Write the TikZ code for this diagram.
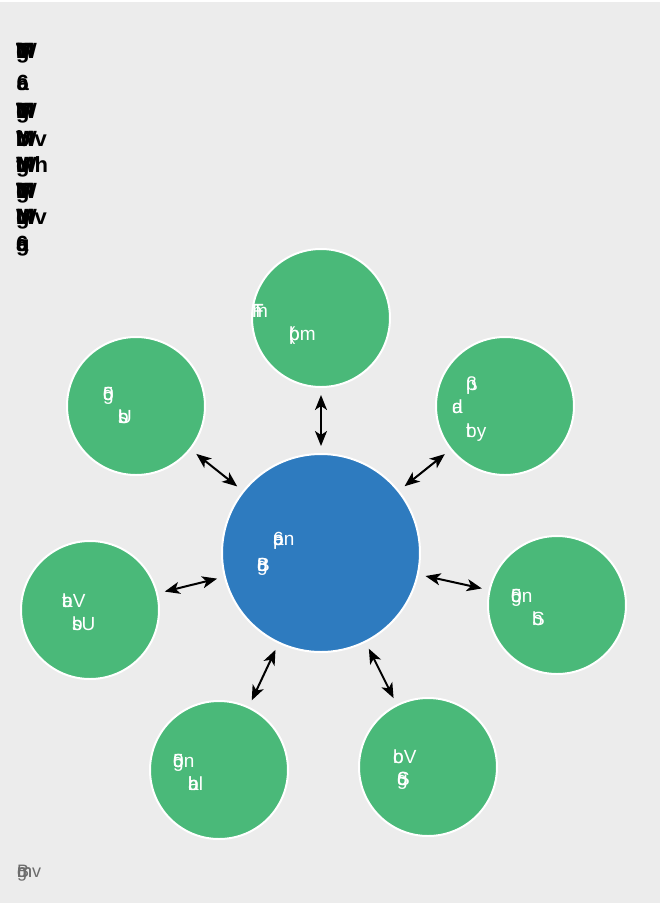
\documentclass[tikz,border=0pt]{standalone}
\usepackage{fontspec}
\setmainfont{Liberation Sans}
\usetikzlibrary{arrows.meta}
\definecolor{bgc}{HTML}{ECECEC}
\definecolor{satc}{HTML}{4AB979}
\definecolor{cenc}{HTML}{2E7BBF}
\definecolor{footc}{HTML}{6D6D6D}
\makeatletter
\def\mkovl#1{\mkovl@a#1\mkovl@end}
\def\mkovl@end{\mkovl@end}
\def\mkovl@a#1{\ifx#1\mkovl@end\else\rlap{#1}\expandafter\mkovl@a\fi}
\makeatother
\tikzset{
  sat/.style={circle,fill=satc,draw=white,line width=2pt,minimum size=138pt,inner sep=0pt},
  cen/.style={circle,fill=cenc,draw=white,line width=2pt,minimum size=198pt,inner sep=0pt},
  conn/.style={{Stealth[length=15pt,width=12pt,inset=4pt]}-{Stealth[length=15pt,width=12pt,inset=4pt]},line width=2pt,black,shorten <=7pt,shorten >=7pt},
  lbl/.style={anchor=base west,inner sep=0pt,text=white,font=\fontsize{19}{19}\selectfont},
  ttl/.style={anchor=base west,inner sep=0pt,text=black,font=\fontsize{22}{22}\selectfont\bfseries},
  foot/.style={anchor=base west,inner sep=0pt,text=footc,font=\fontsize{18}{18}\selectfont}
}
\begin{document}
\begin{tikzpicture}[x=1pt,y=-1pt]
\fill[white] (0,0) rectangle (663,903);
\fill[bgc] (0,2) rectangle (660,903);
\useasboundingbox (0,0) rectangle (663,903);
% title
\node[ttl] (t1) at (16,58) {\mkovl{TWMg}M};
\node[ttl] (t2) at (16,90) {\mkovl{6a}};
\node[ttl] (t3) at (16,118) {\mkovl{TWMg}M};
\node[ttl] (t4) at (16,146) {\mkovl{bWM}Mv};
\node[ttl] (t5) at (16,172) {\mkovl{tWMg}Mh};
\node[ttl] (t6) at (16,198) {\mkovl{TWMg}M};
\node[ttl] (t7) at (16,224) {\mkovl{WMg}Mv};
\node[ttl] (t8) at (16,251) {\mkovl{ag}6};
% circles
\node[cen] (c) at (321,553) {};
\node[sat] (s1) at (321,318) {};
\node[sat] (s2) at (505,406) {};
\node[sat] (s3) at (557,605) {};
\node[sat] (s4) at (428,767) {};
\node[sat] (s5) at (219,770) {};
\node[sat] (s6) at (90,610) {};
\node[sat] (s7) at (136,406) {};
% connectors
\foreach \s in {s1,s2,s3,s4,s5,s6,s7} \draw[conn] (c) -- (\s);
% labels
\node[lbl] (l1a) at (252,317) {\mkovl{TF}m};
\node[lbl] (l1b) at (289,340) {\mkovl{(b}pm};
\node[lbl] (lca) at (273,545) {\mkovl{6a}pn};
\node[lbl] (lcb) at (257,571) {\mkovl{Bg}8};
\node[lbl] (l7a) at (103,400) {\mkovl{5g}0};
\node[lbl] (l7b) at (118,423) {\mkovl{bs}U};
\node[lbl] (l2a) at (466,390) {\mkovl{ß}p};
\node[lbl] (l2b) at (452,413) {\mkovl{a}d};
\node[lbl] (l2c) at (466,437) {\mkovl{t}by};
\node[lbl] (l3a) at (511,602) {\mkovl{5g}0n};
\node[lbl] (l3b) at (532,625) {\mkovl{b}S};
\node[lbl] (l4a) at (393,763) {\mkovl{o}bV};
\node[lbl] (l4b) at (397,785) {\mkovl{6g}S};
\node[lbl] (l5a) at (173,767) {\mkovl{5g}0n};
\node[lbl] (l5b) at (188,790) {\mkovl{ba}hl};
\node[lbl] (l6a) at (62,607) {\mkovl{ta}bV};
\node[lbl] (l6b) at (72,630) {\mkovl{b}sU};
% footer
\node[foot] (ft) at (17,877) {\mkovl{Bgm}mv};
\end{tikzpicture}
\end{document}
